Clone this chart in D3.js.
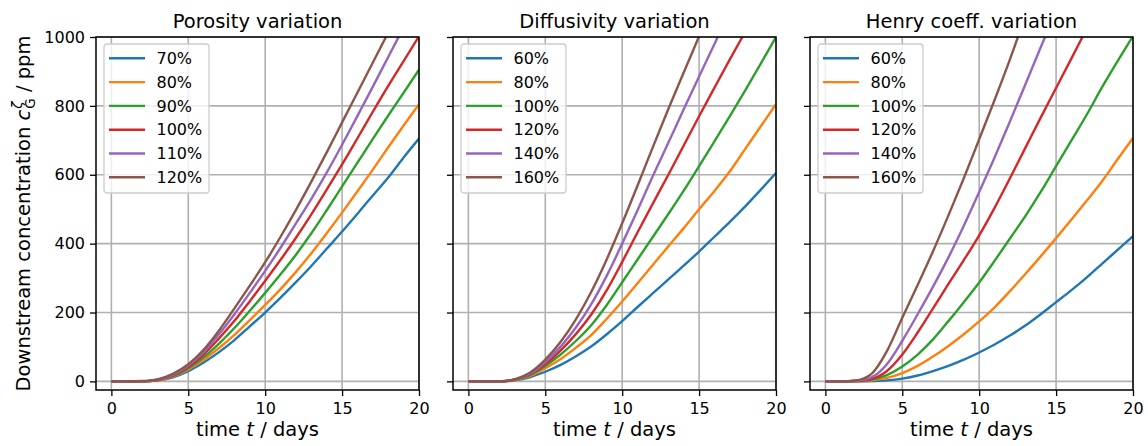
<!DOCTYPE html>
<html>
<head>
<meta charset="utf-8">
<script src="https://cdnjs.cloudflare.com/ajax/libs/d3/7.8.5/d3.min.js"></script>
<style>
  body { margin: 0; background: #fff; }
  svg { display: block; font-family: 'DejaVu Sans', sans-serif; }
  text { white-space: pre; }
</style>
</head>
<body>
<div class="container"></div>
<script>
// data
const days = [0, 1, 2, 3, 4, 5, 6, 7, 8, 9, 10, 11, 12, 13, 14, 15, 16, 17, 18, 19, 20];
const xTicks = [0, 5, 10, 15, 20];
const yTicks = [0, 200, 400, 600, 800, 1000];
const panelTitles = ['Porosity variation', 'Diffusivity variation', 'Henry coeff. variation'];

const porosityLabels = ['70%', '80%', '90%', '100%', '110%', '120%'];
const porosityValues = [
  [0, 0, 0, 3, 12, 30, 55, 85, 120, 160, 200, 243, 288, 335, 385, 435, 487, 540, 592, 650, 705],
  [0, 0, 0, 3, 14, 35, 63, 97, 135, 178, 222, 268, 318, 372, 430, 490, 552, 615, 680, 743, 805],
  [0, 0, 0, 4, 15, 38, 70, 110, 155, 205, 257, 311, 368, 430, 497, 566, 635, 704, 772, 838, 905],
  [0, 0, 0, 4, 17, 42, 78, 125, 176, 233, 292, 353, 417, 485, 557, 630, 706, 783, 858, 930, 1002],
  [0, 0, 0, 5, 19, 46, 85, 137, 195, 257, 321, 388, 459, 530, 606, 687, 771, 856, 942, 1028, 1114],
  [0, 0, 1, 6, 22, 50, 92, 148, 212, 278, 346, 420, 498, 580, 665, 752, 839, 926, 1013, 1100, 1187]
];

const diffusivityLabels = ['60%', '80%', '100%', '120%', '140%', '160%'];
const diffusivityValues = [
  [0, 0, 0, 3, 12, 28, 48, 73, 102, 137, 175, 216, 256, 296, 336, 377, 420, 463, 508, 556, 605],
  [0, 0, 0, 4, 15, 38, 65, 98, 135, 182, 232, 285, 339, 392, 445, 500, 553, 610, 675, 740, 805],
  [0, 0, 0, 5, 18, 45, 78, 118, 164, 222, 288, 354, 420, 486, 554, 625, 697, 770, 845, 922, 1000],
  [0, 0, 0, 5, 20, 50, 90, 138, 195, 265, 347, 433, 517, 600, 685, 770, 853, 935, 1015, 1095, 1175],
  [0, 0, 0, 6, 22, 56, 101, 157, 225, 307, 400, 497, 597, 693, 790, 885, 980, 1075, 1170, 1265, 1360],
  [0, 0, 0, 6, 25, 63, 115, 181, 261, 355, 459, 569, 681, 791, 897, 1002, 1107, 1212, 1317, 1422, 1527]
];

const henryLabels = ['60%', '80%', '100%', '120%', '140%', '160%'];
const henryValues = [
  [0, 0, 0, 1, 3, 8, 17, 30, 45, 63, 84, 107, 133, 162, 195, 230, 265, 302, 342, 382, 422],
  [0, 0, 0, 3, 10, 24, 45, 72, 103, 137, 174, 215, 262, 312, 363, 416, 470, 525, 582, 645, 707],
  [0, 0, 1, 5, 18, 43, 78, 122, 175, 230, 287, 350, 415, 480, 550, 625, 700, 775, 855, 930, 1003],
  [0, 0, 1, 7, 30, 78, 142, 212, 283, 352, 424, 504, 590, 678, 766, 852, 938, 1025, 1110, 1195, 1280],
  [0, 0, 2, 12, 50, 118, 195, 275, 360, 452, 550, 650, 755, 862, 970, 1075, 1180, 1285, 1390, 1495, 1600],
  [0, 0, 3, 22, 88, 185, 280, 378, 482, 590, 703, 817, 935, 1060, 1180, 1300, 1420, 1540, 1660, 1780, 1900]
];

// config
const config = {
  svg: { width: 1148, height: 446 },
  panel: { lefts: [96, 453, 810], top: 37, width: 323, height: 353 },
  xDomain: [-1, 20],
  yDomain: [-25, 1000],
  colors: ['#1f77b4', '#ff7f0e', '#2ca02c', '#d62728', '#9467bd', '#8c564b'],
  grid: '#b0b0b0',
  tickFont: 16,
  labelFont: 19.5,
  legend: { dx: 8, dy: 7, width: 105, height: 149, rowHeight: 23.8, firstRow: 14.3 }
};

const svg = d3.select('.container')
  .append('svg')
  .attr('width', config.svg.width)
  .attr('height', config.svg.height);

const x = d3.scaleLinear().domain(config.xDomain).range([0, config.panel.width]);
const y = d3.scaleLinear().domain(config.yDomain).range([config.panel.height, 0]);

const line = d3.line()
  .x((d, i) => x(days[i]))
  .y(d => y(d))
  .curve(d3.curveMonotoneX);

function drawPanel(index, title, labels, values, showYLabels) {
  const w = config.panel.width, h = config.panel.height;
  const g = svg.append('g')
    .attr('transform', `translate(${config.panel.lefts[index]},${config.panel.top})`);

  // grid
  g.append('g').selectAll('line')
    .data(xTicks)
    .enter().append('line')
    .attr('x1', d => x(d)).attr('x2', d => x(d))
    .attr('y1', 0).attr('y2', h)
    .attr('stroke', config.grid).attr('stroke-width', 1.6);
  g.append('g').selectAll('line')
    .data(yTicks)
    .enter().append('line')
    .attr('x1', 0).attr('x2', w)
    .attr('y1', d => y(d)).attr('y2', d => y(d))
    .attr('stroke', config.grid).attr('stroke-width', 1.6);

  // lines, clipped to the axes
  g.append('clipPath').attr('id', 'clip' + index)
    .append('rect').attr('width', w).attr('height', h);
  g.append('g').attr('clip-path', `url(#clip${index})`)
    .selectAll('path')
    .data(values)
    .enter().append('path')
    .attr('d', d => line(d))
    .attr('fill', 'none')
    .attr('stroke', (d, i) => config.colors[i])
    .attr('stroke-width', 2.4)
    .attr('stroke-linejoin', 'round');

  // axes
  const xAxis = g.append('g')
    .attr('transform', `translate(0,${h})`)
    .call(d3.axisBottom(x).tickValues(xTicks).tickSize(6).tickPadding(7));
  const yAxis = g.append('g')
    .call(d3.axisLeft(y).tickValues(yTicks).tickSize(6).tickPadding(5)
      .tickFormat(showYLabels ? d3.format('d') : ''));
  [xAxis, yAxis].forEach(a => {
    a.select('.domain').remove();
    a.selectAll('line').attr('stroke', '#000').attr('stroke-width', 1.3);
    a.selectAll('text')
      .attr('fill', '#000')
      .style('font-size', config.tickFont + 'px')
      .style('font-family', "'DejaVu Sans', sans-serif");
  });

  // frame
  g.append('rect')
    .attr('width', w).attr('height', h)
    .attr('fill', 'none').attr('stroke', '#000').attr('stroke-width', 1.5);

  // title
  g.append('text')
    .attr('x', w / 2).attr('y', -9.5)
    .attr('text-anchor', 'middle')
    .style('font-size', config.labelFont + 'px')
    .text(title);

  // x label
  const xl = g.append('text')
    .attr('x', w / 2)
    .attr('y', 436 - config.panel.top)
    .attr('text-anchor', 'middle')
    .style('font-size', config.labelFont + 'px');
  xl.append('tspan').text('time ');
  xl.append('tspan').style('font-style', 'italic').text('t');
  xl.append('tspan').text(' / days');

  // legend
  const L = config.legend;
  const lg = g.append('g').attr('transform', `translate(${L.dx},${L.dy})`);
  lg.append('rect')
    .attr('width', L.width).attr('height', L.height)
    .attr('rx', 3).attr('ry', 3)
    .attr('fill', 'rgba(255,255,255,0.8)')
    .attr('stroke', '#cccccc').attr('stroke-width', 1.3);
  const rows = lg.selectAll('.row')
    .data(labels)
    .enter().append('g')
    .attr('class', 'row')
    .attr('transform', (d, i) => `translate(0,${L.firstRow + i * L.rowHeight})`);
  rows.append('line')
    .attr('x1', 5).attr('x2', 41)
    .attr('stroke', (d, i) => config.colors[i])
    .attr('stroke-width', 2.4);
  rows.append('text')
    .attr('x', 52.5).attr('dy', '0.36em')
    .style('font-size', config.tickFont + 'px')
    .text(d => d);
}

drawPanel(0, panelTitles[0], porosityLabels, porosityValues, true);
drawPanel(1, panelTitles[1], diffusivityLabels, diffusivityValues, false);
drawPanel(2, panelTitles[2], henryLabels, henryValues, false);

// y label with stacked sub/superscript
const yl = svg.append('g')
  .attr('transform', `translate(30,${config.panel.top + config.panel.height / 2}) rotate(-90)`);
const fs = config.labelFont, small = 13.5;
let cursor = 0;
function piece(txt, size, italic, dy) {
  const t = yl.append('text')
    .attr('x', cursor).attr('y', dy)
    .style('font-size', size + 'px')
    .style('font-style', italic ? 'italic' : 'normal')
    .text(txt);
  return t.node().getComputedTextLength();
}
cursor += piece('Downstream concentration ', fs, false, 0);
cursor += piece('c', fs, true, 0) + 1;
const gw = piece('G', small, false, 4.5);
const zw = piece('\u03B6', small, true, -8.5);
cursor += Math.max(gw, zw);
cursor += piece(' / ppm', fs, false, 0);
yl.selectAll('text').attr('transform', `translate(${-cursor / 2},0)`);
</script>
</body>
</html>
